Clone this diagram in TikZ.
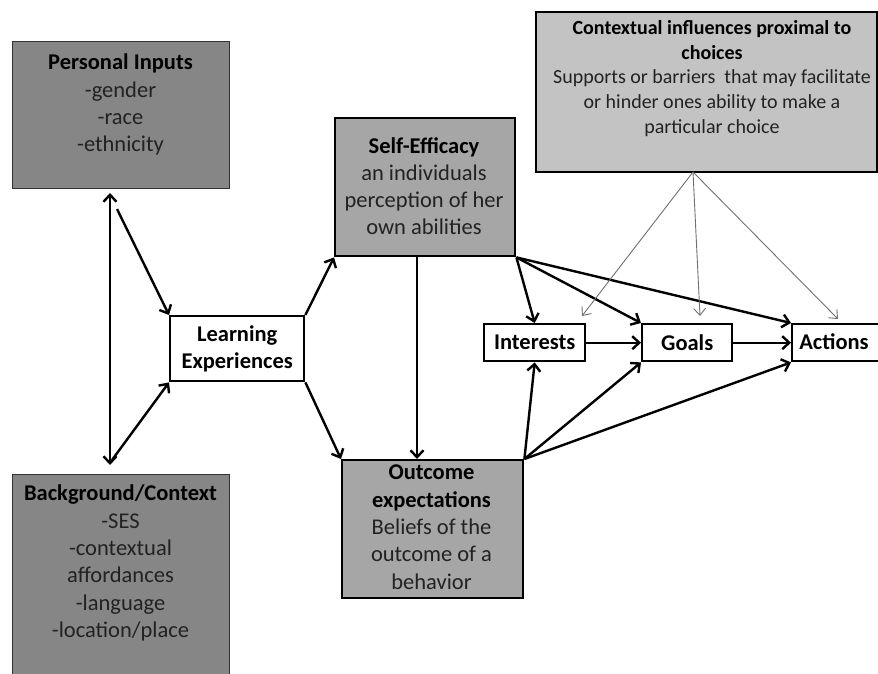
\documentclass[tikz,border=0pt]{standalone}
\usepackage{fontspec}
\setmainfont{Carlito}
\usetikzlibrary{arrows.meta,calc}
\definecolor{darkfill}{HTML}{868686}
\definecolor{midfill}{HTML}{A6A6A6}
\definecolor{lightfill}{HTML}{C3C3C3}
\definecolor{txtgray}{HTML}{222222}
\definecolor{thingray}{HTML}{707070}
\begin{document}
\begin{tikzpicture}[x=1pt,y=-1pt,
  boxbase/.style={rectangle, inner sep=0pt, anchor=north west},
  darkbox/.style={boxbase, fill=darkfill, draw=black!80, line width=1pt},
  midbox/.style={boxbase, fill=midfill, draw=black, line width=2.4pt},
  ctxbox/.style={boxbase, fill=lightfill, draw=black, line width=2pt},
  whitebox/.style={boxbase, fill=white, draw=black, line width=2.4pt},
  bigtxt/.style={anchor=north, inner sep=0pt, align=center, text=txtgray,
     font=\fontsize{22.5}{27.3}\selectfont},
  ctxtxt/.style={anchor=north, inner sep=0pt, align=center, text=txtgray,
     font=\fontsize{20}{24.8}\selectfont},
  lbl/.style={inner sep=0pt, align=center, text=black,
     font=\fontsize{22.5}{27}\selectfont\bfseries},
  arr/.style={draw=black, line width=2.4pt, -{Straight Barb[length=7pt,width=13pt,line width=2.4pt]}},
  darr/.style={draw=black, line width=2.4pt, {Straight Barb[length=7pt,width=13pt,line width=2.4pt]}-{Straight Barb[length=7pt,width=13pt,line width=2.4pt]}},
  thin/.style={draw=thingray, line width=0.9pt, -{Straight Barb[length=7pt,width=12pt,line width=0.9pt]}}
]
\useasboundingbox (0,0) rectangle (878,673);
\fill[white] (0,0) rectangle (878,673);

% boxes
\node[darkbox, minimum width=217pt, minimum height=147pt] (pi) at (12,41) {};
\node[darkbox, minimum width=217pt, minimum height=205pt] (bg) at (12,474) {};
\node[whitebox, minimum width=134pt, minimum height=65pt] (le) at (169,315) {};
\node[midbox, minimum width=180pt, minimum height=138pt] (se) at (334,117) {};
\node[midbox, minimum width=181pt, minimum height=138pt] (oe) at (341,459) {};
\node[ctxbox, minimum width=341pt, minimum height=160pt] (ctx) at (535,11) {};
\node[whitebox, minimum width=101pt, minimum height=37pt] (int) at (483,323) {};
\node[whitebox, minimum width=90pt, minimum height=37pt] (goals) at (641,323) {};
\node[whitebox, minimum width=88pt, minimum height=37pt] (act) at (791,323) {};

% texts
\node[bigtxt] (pit) at (120.5,54) {\textbf{\color{black}Personal Inputs}\\-gender\\-race\\-ethnicity};
\node[bigtxt] (bgt) at (120.5,485) {\textbf{\color{black}Background/Context}\\-SES\\-contextual\\affordances\\-language\\-location/place};
\node[bigtxt] (set) at (424,137) {\textbf{\color{black}Self-Efficacy}\\an individuals\\perception of her\\own abilities};
\node[bigtxt] (oet) at (431.5,465) {\textbf{\color{black}Outcome}\\\textbf{\color{black}expectations}\\Beliefs of the\\outcome of a\\behavior};
\node[ctxtxt] (ctxt) at (712,20) {\textbf{\color{black}Contextual influences proximal to}\\\textbf{\color{black}choices}\\Supports or barriers\ \ that may facilitate\\or hinder ones ability to make a\\particular choice};
\node[lbl] (let) at (le.center) {Learning\\Experiences};
\node[lbl] (intt) at (int.center) {Interests};
\node[lbl] (goalst) at (goals.center) {Goals};
\node[lbl] (actt) at (834,341.5) {Actions};

% helper coordinates
\coordinate (dtop) at (110,193);
\coordinate (dbot) at (110,465);
\coordinate (pistart) at (117,209);
\coordinate (bgstart) at (112,460);
\coordinate (ctxo) at (693,172);
\coordinate (tint) at (582,316);
\coordinate (tgoal) at (700,316);
\coordinate (tact) at (838,319);

% connectors
\draw[darr] (dtop) -- (dbot);
\draw[arr] (pistart) -- (le.north west);
\draw[arr] (bgstart) -- (le.south west);
\draw[arr] (le.north east) -- (se.south west);
\draw[arr] (le.south east) -- (oe.north west);
\draw[arr] (se.south -| 417,0) -- (oe.north -| 417,0);
\draw[arr] (se.south east) -- (int.north);
\draw[arr] (se.south east) -- (goals.north west);
\draw[arr] (se.south east) -- (act.north west);
\draw[arr] (oe.north east) -- (int.south);
\draw[arr] (oe.north east) -- (goals.south west);
\draw[arr] (oe.north east) -- (act.south west);
\draw[arr] (int.east) -- (goals.west);
\draw[arr] (goals.east) -- (act.west);
\draw[thin] (ctxo) -- (tint);
\draw[thin] (ctxo) -- (tgoal);
\draw[thin] (ctxo) -- (tact);
\end{tikzpicture}
\end{document}
